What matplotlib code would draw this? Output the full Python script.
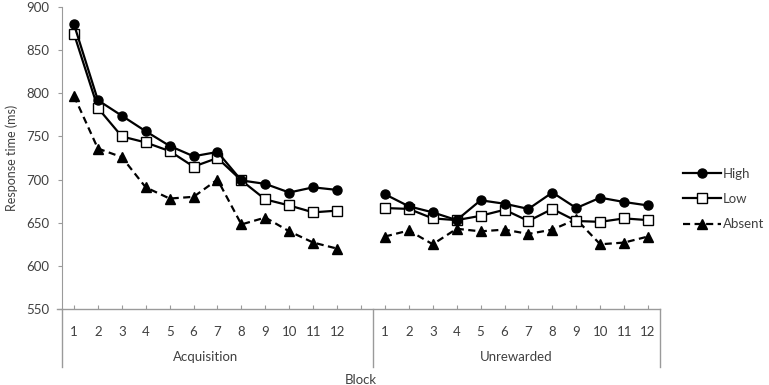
import matplotlib
matplotlib.use("Agg")
import matplotlib.pyplot as plt
from matplotlib.lines import Line2D
import numpy as np

plt.rcParams['font.family'] = ['Lato', 'DejaVu Sans']

blocks = [str(i) for i in range(1, 13)]
groups = ["Acquisition", "Unrewarded"]

high_acq = [880, 792, 774, 756, 739, 727, 732, 699, 695, 685, 691, 688]
low_acq = [869, 783, 750, 743, 733, 715, 725, 699, 677, 670, 662, 664]
absent_acq = [797, 736, 726, 691, 678, 680, 700, 648, 656, 640, 627, 620]

high_unr = [683, 669, 662, 653, 676, 672, 666, 685, 667, 679, 674, 670]
low_unr = [667, 666, 655, 653, 658, 665, 652, 666, 652, 651, 655, 653]
absent_unr = [634, 641, 625, 643, 640, 642, 637, 642, 654, 625, 627, 634]

TXT = '#404040'
AX = '#9a9a9a'

fig = plt.figure(figsize=(7.69, 3.85), dpi=100)
ax = fig.add_axes([62/769, 1-309/385, (660-62)/769, (309-7)/385])

n = len(blocks)
xa = np.arange(n)
xu = np.arange(n) + n + 1

styles = {
    'High': dict(color='black', lw=1.6, ls='-', marker='o', ms=6.5, mfc='black', mec='black'),
    'Low': dict(color='black', lw=1.6, ls='-', marker='s', ms=6.5, mfc='white', mec='black', mew=1.0),
    'Absent': dict(color='black', lw=1.6, ls=(0, (3.2, 2)), marker='^', ms=7, mfc='black', mec='black'),
}
series = {
    'High': (high_acq, high_unr),
    'Low': (low_acq, low_unr),
    'Absent': (absent_acq, absent_unr),
}
# draw Absent first, then Low, then High on top
for name in ['Absent', 'Low', 'High']:
    a, u = series[name]
    ax.plot(xa, a, **styles[name], zorder=3)
    ax.plot(xu, u, **styles[name], zorder=3)

ax.set_xlim(-0.5, 2*n + 0.5)
ax.set_ylim(550, 900)
ax.set_yticks(np.arange(550, 901, 50))

ticks = list(xa) + [n] + list(xu)
labels = blocks + [''] + blocks
ax.set_xticks(ticks)
ax.set_xticklabels(labels)

for s in ['top', 'right']:
    ax.spines[s].set_visible(False)
ax.spines['left'].set_color(AX)
ax.spines['bottom'].set_visible(False)

ax.tick_params(axis='y', direction='out', length=3, color=AX, labelcolor=TXT, labelsize=9.5, pad=6)
ax.tick_params(axis='x', direction='in', length=3, color=AX, labelcolor=TXT, labelsize=9.5, pad=12)

trans = ax.get_xaxis_transform()
# bottom axis line
ax.plot([-0.72, 2*n + 0.5], [0, 0], transform=trans, color=AX, lw=1, clip_on=False, zorder=2)
# group separators
bot = -(367-309)/302
for xs in [-0.5, n + 0.5, 2*n + 0.5]:
    ax.plot([xs, xs], [0, bot], transform=trans, color=AX, lw=1, clip_on=False)

gy = -(357-309)/302
ax.text((n-1)/2, gy, groups[0], transform=trans, ha='center', va='center', color=TXT, fontsize=9.5)
ax.text(n + 1 + (n-1)/2, gy, groups[1], transform=trans, ha='center', va='center', color=TXT, fontsize=9.5)
ax.text(n, -(380-309)/302, "Block", transform=trans, ha='center', va='center', color=TXT, fontsize=9.5)

fig.text(12/769, 1-158/385, "Response time (ms)", rotation=90, ha='center', va='center', color=TXT, fontsize=9)

handles = [Line2D([], [], **styles[k]) for k in ['High', 'Low', 'Absent']]
leg = fig.legend(handles, ['High', 'Low', 'Absent'], loc='center left',
                 bbox_to_anchor=(676/769, 1-199/385), frameon=False,
                 handlelength=2.9, handletextpad=0.15, labelspacing=1.0,
                 fontsize=9.5, borderpad=0)
for t in leg.get_texts():
    t.set_color(TXT)

fig.savefig("out.png", dpi=100, facecolor='white')
